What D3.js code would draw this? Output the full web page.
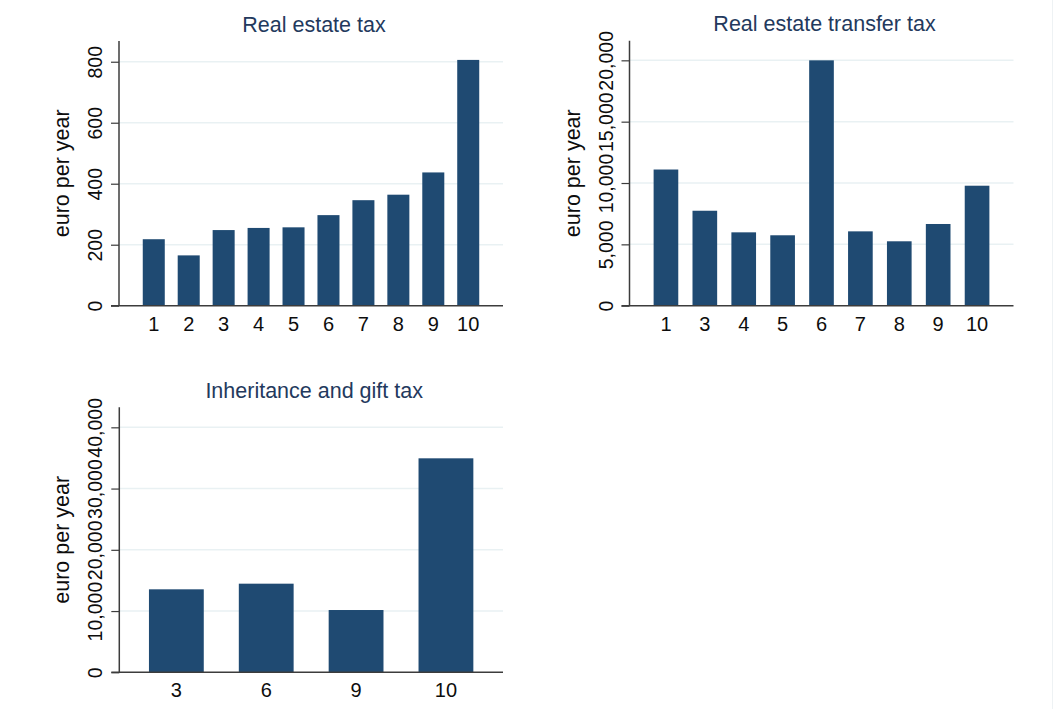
<!DOCTYPE html>
<html>
<head>
<meta charset="utf-8">
<script src="https://cdn.jsdelivr.net/npm/d3@7"></script>
<style>
  html, body { margin: 0; padding: 0; background: #ffffff; }
  svg { display: block; font-family: "Liberation Sans", Arial, sans-serif; }
</style>
</head>
<body>
<svg id="chart" width="1059" height="709"></svg>
<script>
// Average tax per year by decile
const estateDeciles   = ["1", "2", "3", "4", "5", "6", "7", "8", "9", "10"];
const estateValues    = [218, 165, 248, 255, 257, 297, 346, 364, 437, 806];
const estateTicks     = [0, 200, 400, 600, 800];

const transferDeciles = ["1", "3", "4", "5", "6", "7", "8", "9", "10"];
const transferValues  = [11100, 7740, 5980, 5740, 20000, 6060, 5250, 6660, 9780];
const transferTicks   = [0, 5000, 10000, 15000, 20000];

const giftDeciles     = ["3", "6", "9", "10"];
const giftValues      = [13550, 14470, 10170, 34940];
const giftTicks       = [0, 10000, 20000, 30000, 40000];

const titles = ["Real estate tax", "Real estate transfer tax", "Inheritance and gift tax"];
const yLabel = "euro per year";

const barColor = "#1f4a72";
const titleColor = "#23395d";
const axisColor = "#3c3c3c";
const gridColor = "#e9f1f3";
const textColor = "#0d0d0d";

const svg = d3.select("#chart");

const panels = [
  { title: titles[0], cats: estateDeciles, vals: estateValues, ticks: estateTicks, yMax: 868,
    x0: 119, x1: 503, y0: 41, y1: 305.7, padIn: 0.37, padOut: 0.68 },
  { title: titles[1], cats: transferDeciles, vals: transferValues, ticks: transferTicks, yMax: 21600,
    x0: 629.5, x1: 1013.5, y0: 40.7, y1: 305.7, padIn: 0.366, padOut: 0.62 },
  { title: titles[2], cats: giftDeciles, vals: giftValues, ticks: giftTicks, yMax: 43270,
    x0: 119.3, x1: 503, y0: 407.3, y1: 672.3, padIn: 0.39, padOut: 0.33 }
];

const fmt = d3.format(",");

panels.forEach(p => {
  const g = svg.append("g");
  const x = d3.scaleBand().domain(p.cats).range([p.x0, p.x1])
    .paddingInner(p.padIn).paddingOuter(p.padOut);
  const y = d3.scaleLinear().domain([0, p.yMax]).range([p.y1, p.y0]);

  // gridlines (skip the baseline)
  g.selectAll("line.grid").data(p.ticks.filter(t => t > 0)).join("line")
    .attr("class", "grid")
    .attr("x1", p.x0).attr("x2", p.x1)
    .attr("y1", d => y(d)).attr("y2", d => y(d))
    .attr("stroke", gridColor).attr("stroke-width", 1.5);

  // bars
  g.selectAll("rect.bar").data(p.vals).join("rect")
    .attr("class", "bar")
    .attr("x", (d, i) => x(p.cats[i]))
    .attr("width", x.bandwidth())
    .attr("y", d => y(d))
    .attr("height", d => y(0) - y(d))
    .attr("fill", barColor);

  // y axis with rotated tick labels
  const yAxis = d3.axisLeft(y).tickValues(p.ticks).tickSize(8).tickFormat(fmt);
  const ya = g.append("g").attr("transform", `translate(${p.x0},0)`).call(yAxis);
  ya.select(".domain").remove();
  ya.selectAll(".tick line").attr("stroke", axisColor).attr("stroke-width", 1.2);
  ya.selectAll(".tick text")
    .attr("fill", textColor).attr("font-size", 19.5)
    .attr("text-anchor", "middle")
    .attr("x", 0).attr("y", 0).attr("dy", null)
    .attr("transform", "translate(-17,0) rotate(-90)");
  g.append("line")
    .attr("x1", p.x0).attr("x2", p.x0).attr("y1", p.y0).attr("y2", p.y1)
    .attr("stroke", axisColor).attr("stroke-width", 1.5);

  // x axis
  const xAxis = d3.axisBottom(x).tickSize(0).tickPadding(11);
  const xa = g.append("g").attr("transform", `translate(0,${p.y1})`).call(xAxis);
  xa.select(".domain").remove();
  xa.selectAll(".tick text").attr("fill", textColor).attr("font-size", 20);
  g.append("line")
    .attr("x1", p.x0 - 8).attr("x2", p.x1).attr("y1", p.y1).attr("y2", p.y1)
    .attr("stroke", axisColor).attr("stroke-width", 1.5);

  // y title
  g.append("text")
    .attr("transform", `translate(${p.x0 - 50},${(p.y0 + p.y1) / 2}) rotate(-90)`)
    .attr("text-anchor", "middle")
    .attr("font-size", 21.5).attr("fill", textColor)
    .text(yLabel);

  // panel title
  g.append("text")
    .attr("x", (p.x0 + p.x1) / 2 + 3)
    .attr("y", p.y0 - 9.5)
    .attr("text-anchor", "middle")
    .attr("font-size", 21.5).attr("fill", titleColor)
    .text(p.title);
});

// frame edge on the right
svg.append("line")
  .attr("x1", 1052.5).attr("x2", 1052.5).attr("y1", 0).attr("y2", 709)
  .attr("stroke", "#eef2f4").attr("stroke-width", 1);
</script>
</body>
</html>
